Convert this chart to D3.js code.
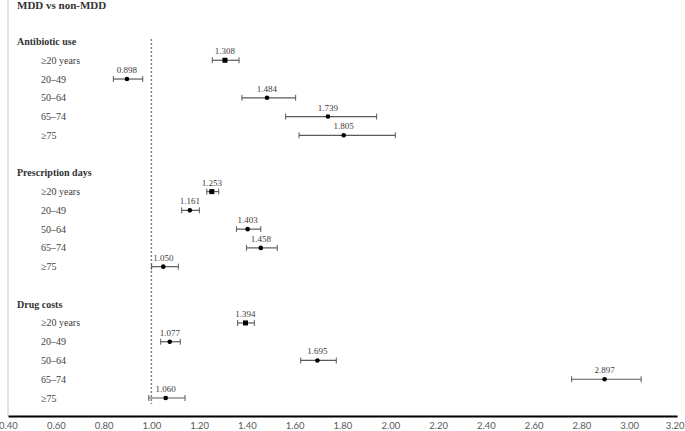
<!DOCTYPE html>
<html>
<head>
<meta charset="utf-8">
<script src="https://cdn.jsdelivr.net/npm/d3@7"></script>
<style>
  body { margin: 0; background: #fff; }
  svg { display: block; }
</style>
</head>
<body>
<div id="d3"></div>
<script>
// data
var groups = ["Antibiotic use", "Prescription days", "Drug costs"];
var ages = ["\u226520 years", "20\u201349", "50\u201364", "65\u201374", "\u226575"];

var antibioticOR   = [1.308, 0.898, 1.484, 1.739, 1.805];
var antibioticLow  = [1.255, 0.841, 1.379, 1.562, 1.618];
var antibioticHigh = [1.367, 0.964, 1.604, 1.943, 2.021];

var daysOR   = [1.253, 1.161, 1.403, 1.458, 1.050];
var daysLow  = [1.232, 1.127, 1.356, 1.398, 1.001];
var daysHigh = [1.282, 1.201, 1.458, 1.527, 1.113];

var costsOR   = [1.394, 1.077, 1.695, 2.897, 1.060];
var costsLow  = [1.361, 1.039, 1.625, 2.759, 0.989];
var costsHigh = [1.431, 1.121, 1.774, 3.050, 1.141];

var xTicks = [0.40, 0.60, 0.80, 1.00, 1.20, 1.40, 1.60, 1.80, 2.00, 2.20, 2.40, 2.60, 2.80, 3.00, 3.20];

var W = 685, H = 431;
var svg = d3.select("#d3").append("svg").attr("width", W).attr("height", H);

var x = d3.scaleLinear().domain([0.4, 3.2]).range([8, 677]);
// one slot per line: header, 5 rows, blank gap
var y = d3.scaleLinear().domain([0, 19]).range([41.5, 398]);

var series = [
    {or: antibioticOR, lo: antibioticLow, hi: antibioticHigh},
    {or: daysOR, lo: daysLow, hi: daysHigh},
    {or: costsOR, lo: costsLow, hi: costsHigh}
];

var rows = [];
groups.forEach(function(g, gi) {
    ages.forEach(function(a, ai) {
        rows.push({
            slot: gi * 7 + 1 + ai,
            label: a,
            or: series[gi].or[ai],
            lo: series[gi].lo[ai],
            hi: series[gi].hi[ai],
            square: ai === 0
        });
    });
});

// left frame line
svg.append("line")
    .attr("x1", 8).attr("x2", 8)
    .attr("y1", 0).attr("y2", 416)
    .attr("stroke", "#c8c8c8")
    .attr("stroke-width", 1);

// title
svg.append("text")
    .attr("x", 17).attr("y", 9)
    .attr("font-family", "Liberation Serif")
    .attr("font-size", "11px")
    .attr("font-weight", "bold")
    .attr("fill", "#333")
    .text("MDD vs non-MDD");

// reference line at 1
svg.append("line")
    .attr("x1", x(1)).attr("x2", x(1))
    .attr("y1", 39).attr("y2", 404)
    .attr("stroke", "#7f7f7f")
    .attr("stroke-width", 1.5)
    .attr("stroke-dasharray", "2,2");

// group headers
svg.selectAll("text.group")
    .data(groups).enter()
    .append("text")
    .attr("class", "group")
    .attr("x", 17)
    .attr("y", function(d, i) { return y(i * 7) + 3.5; })
    .attr("font-family", "Liberation Serif")
    .attr("font-size", "10px")
    .attr("font-weight", "bold")
    .attr("fill", "#333")
    .text(function(d) { return d; });

// row labels
svg.selectAll("text.row")
    .data(rows).enter()
    .append("text")
    .attr("class", "row")
    .attr("x", 41)
    .attr("y", function(d) { return y(d.slot) + 3.5; })
    .attr("font-family", "Liberation Serif")
    .attr("font-size", "10px")
    .attr("fill", "#404040")
    .text(function(d) { return d.label; });

// error bars
var bars = svg.selectAll("g.bar")
    .data(rows).enter()
    .append("g")
    .attr("class", "bar");

bars.append("line")
    .attr("x1", function(d) { return x(d.lo); })
    .attr("x2", function(d) { return x(d.hi); })
    .attr("y1", function(d) { return y(d.slot); })
    .attr("y2", function(d) { return y(d.slot); })
    .attr("stroke", "#595959")
    .attr("stroke-width", 1.2);

["lo", "hi"].forEach(function(k) {
    bars.append("line")
        .attr("x1", function(d) { return x(d[k]); })
        .attr("x2", function(d) { return x(d[k]); })
        .attr("y1", function(d) { return y(d.slot) - 3; })
        .attr("y2", function(d) { return y(d.slot) + 3; })
        .attr("stroke", "#595959")
        .attr("stroke-width", 1);
});

bars.filter(function(d) { return d.square; })
    .append("rect")
    .attr("x", function(d) { return x(d.or) - 2.5; })
    .attr("y", function(d) { return y(d.slot) - 2.5; })
    .attr("width", 5).attr("height", 5)
    .attr("fill", "#000");

bars.filter(function(d) { return !d.square; })
    .append("circle")
    .attr("cx", function(d) { return x(d.or); })
    .attr("cy", function(d) { return y(d.slot); })
    .attr("r", 2.3)
    .attr("fill", "#000");

bars.append("text")
    .attr("x", function(d) { return x(d.or); })
    .attr("y", function(d) { return y(d.slot) - 6; })
    .attr("text-anchor", "middle")
    .attr("font-family", "Liberation Serif")
    .attr("font-size", "9px")
    .attr("fill", "#404040")
    .text(function(d) { return d3.format(".3f")(d.or); });

// x axis
var axis = svg.append("g")
    .attr("transform", "translate(0,416)")
    .call(d3.axisBottom(x).tickValues(xTicks).tickSize(0).tickPadding(6).tickFormat(d3.format(".2f")));

axis.select(".domain").attr("stroke", "#000").attr("stroke-width", 2);
axis.selectAll("text")
    .attr("font-family", "Lato")
    .attr("font-size", "9.5px")
    .attr("fill", "#595959");
// keep the last label inside the window
axis.selectAll(".tick:last-of-type text")
    .attr("text-anchor", "end")
    .attr("x", 7);
</script>
</body>
</html>
